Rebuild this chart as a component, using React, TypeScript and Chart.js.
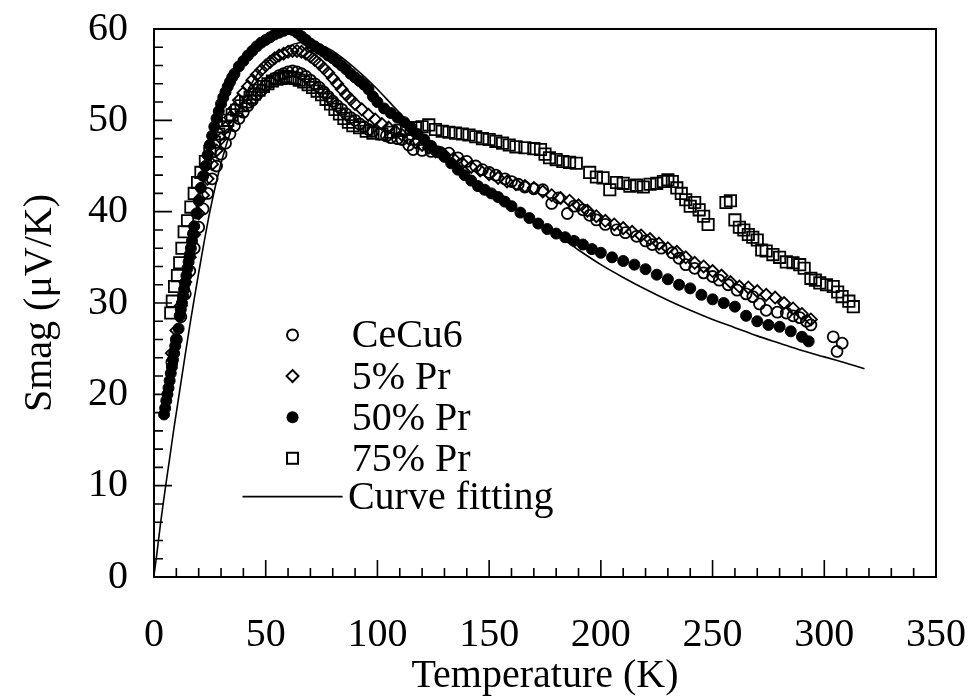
import React, { useEffect, useRef } from "react";
import { Chart, registerables } from "chart.js";

Chart.register(...registerables);

const xTicks = [0, 50, 100, 150, 200, 250, 300, 350];
const yTicks = [0, 10, 20, 30, 40, 50, 60];
const seriesNames = ["CeCu6", "5% Pr", "50% Pr", "75% Pr", "Curve fitting"];

const cecu6: [number, number][] = [
  [8,23.5],[10,26],[12,28.5],[14,31],[16,33.5],[18,36],[20,38.3],[22,40.3],[24,42],[26,43.6],[28,45],[30,46.3],[32,47.5],[34,48.5],[36,49.4],[38,50.2],[40,50.9],[42,51.6],[44,52.2],[46,52.8],[48,53.3],[50,53.8],[52,54.2],[54,54.6],[56,54.9],[58,55.1],[60,55.3],[62,55.4],[64,55.3],[66,55.1],[68,54.8],[70,54.4],[72,54],[74,53.6],[76,53.1],[78,52.6],[80,52.1],[82,51.6],[84,51.2],[86,50.7],[88,50.3],[90,50],[92,49.6],[94,49.3],[96,49],[98,48.8],[101,48.5],[104,48.3],[106,48.1],[109,48],[111,47.9],[114,47.3],[116,46.8],[120,46.7],[124,46.6],[128,46.5],[132,46.4],[136,45.9],[140,45.5],[144,45],[147,44.6],[150,44.3],[153,44],[157,43.6],[160,43.3],[163,43],[166,42.7],[170,42.5],[174,42.4],[178,40.9],[181,41.5],[185,39.8],[188,40.6],[192,40.2],[195,39.6],[198,39.1],[202,38.6],[207,38],[211,37.7],[216,37.3],[220,36.8],[223,36.4],[227,36],[232,35.5],[235,34.9],[238,34.2],[242,33.8],[246,33.3],[250,32.9],[253,32.5],[257,32],[261,31.4],[265,31],[268,30.7],[271,29.9],[274,29.2],[279,29],[283,28.9],[286,28.6],[289,28.4],[292,28],[294,27.6],[304,26.3],[305.7,24.7],[308,25.6]
];

const pr5: [number, number][] = [
  [8,24.5],[10,27],[12,29.7],[14,32.3],[16,35],[18,37.5],[20,39.8],[22,41.8],[24,43.6],[26,45.2],[28,46.7],[30,48],[32,49.2],[34,50.3],[36,51.3],[38,52.2],[40,53],[42,53.7],[44,54.4],[46,55],[48,55.5],[50,56],[52,56.4],[54,56.8],[56,57.1],[58,57.3],[60,57.5],[62,57.6],[64,57.6],[66,57.5],[68,57.3],[70,57],[72,56.6],[74,56.2],[76,55.7],[78,55.2],[80,54.6],[82,54],[84,53.4],[86,52.8],[88,52.3],[90,51.8],[93,51.2],[96,50.6],[99,50.1],[102,49.6],[105,49.2],[108,48.8],[111,48.4],[114,48],[117,47.6],[120,47.3],[123,47],[126,46.6],[130,46.2],[134,45.8],[138,45.3],[142,44.9],[146,44.5],[150,44.1],[154,43.7],[158,43.3],[162,43],[166,42.8],[170,42.6],[174,42.2],[178,41.8],[182,41.5],[186,41.2],[190,40.7],[194,40.1],[198,39.5],[202,39],[206,38.6],[210,38.2],[214,37.8],[218,37.4],[222,37],[226,36.5],[230,36],[234,35.6],[238,35],[242,34.4],[246,34],[250,33.5],[254,33],[258,32.3],[262,31.8],[266,31.7],[270,31.3],[274,30.9],[278,30.6],[282,30],[286,29.4],[290,28.8],[294,28.2]
];

const pr50: [number, number][] = [
  [4.5,17.8],[5,18.5],[5.5,19.3],[6,20],[6.5,20.7],[7,21.5],[7.5,22.3],[8,23],[8.5,23.8],[9,24.5],[9.5,25.3],[10,26],[11,27.2],[11.5,28.6],[12,29.3],[12.5,30],[13,30.8],[13.5,31.5],[14,32.2],[14.5,33],[15,33.8],[15.5,34.5],[16,35.3],[16.5,36],[17,36.8],[17.5,37.6],[18,38.4],[19,39.8],[20,41.2],[21,42.6],[22,43.9],[23,45],[24,46.2],[25,47.3],[26,48.3],[27,49.3],[28,50.2],[29,51],[30,51.8],[31,52.5],[32,53.1],[33,53.7],[34,54.2],[35,54.7],[36,55.1],[38,55.9],[40,56.5],[42,57.1],[44,57.6],[46,58.1],[48,58.5],[50,58.8],[52,59.1],[54,59.4],[56,59.6],[58,59.8],[60,60],[62,59.9],[64,59.6],[66,59.2],[68,58.8],[70,58.4],[72,58.1],[74,57.8],[76,57.5],[78,57.1],[80,56.8],[82,56.4],[84,56],[86,55.6],[88,55.1],[90,54.7],[92,54.3],[94,53.9],[96,53.4],[98,52.6],[100,52],[103,51.3],[106,50.8],[109,50.3],[112,49.8],[115,49.2],[118,48.5],[121,47.9],[124,47.2],[127,46.6],[130,46],[133,45.3],[136,44.6],[139,44],[142,43.4],[145,42.8],[148,42.4],[151,42],[154,41.6],[157,41.1],[160,40.6],[164,39.9],[168,39.3],[172,38.7],[176,38.1],[180,37.6],[184,37.2],[188,36.8],[192,36.4],[196,35.9],[200,35.5],[205,35],[210,34.6],[215,34.2],[220,33.7],[225,33.1],[230,32.6],[235,32],[240,31.6],[245,30.9],[250,30.4],[255,30],[260,29.6],[265,28.6],[270,28],[275,27.6],[280,27.4],[285,26.9],[290,26.3],[293,25.8]
];

const pr75: [number, number][] = [
  [7.5,28.9],[8.2,30.2],[9.2,31.8],[10.5,33],[11.5,34.4],[12.5,36],[13.5,37.8],[15,39],[16.5,40.5],[18,42],[19.5,43.2],[21,44.3],[23,45.5],[25,46.6],[27,47.6],[29,48.5],[31,49.3],[33,50],[35,50.6],[37,51.1],[39,51.6],[41,52],[43,52.5],[45,52.9],[47,53.3],[49,53.7],[51,54],[53,54.3],[55,54.5],[57,54.6],[59,54.8],[61,54.7],[63,54.6],[65,54.4],[67,54.2],[69,53.9],[71,53.6],[73,53.2],[75,52.8],[77,52.3],[79,51.8],[81,51.2],[83,50.7],[85,50.2],[87,49.8],[89,49.4],[92,49.2],[95,48.8],[98,48.6],[102,48.5],[106,48.7],[110,48.9],[113,49],[117,49.2],[120,49.3],[123,49.5],[126,49],[129,48.8],[132,48.7],[135,48.6],[138,48.5],[141,48.4],[144,48.2],[147,48],[150,47.9],[153,47.7],[156,47.5],[159,47.3],[162,47.1],[166,47],[170,46.9],[173,46.8],[175,46.3],[177,45.9],[180,45.7],[183,45.5],[186,45.4],[189,45.3],[195,44.3],[198,43.8],[201,43.7],[204,42.4],[207,43.2],[210,43.1],[213,42.8],[216,42.9],[219,42.7],[222,43],[225,43.1],[228,43.3],[230,43.5],[232,43.3],[234,42.6],[236,42],[238,41.3],[240,40.6],[242,41],[244,40.2],[246,39.5],[248,38.6],[256,41],[258,41.2],[260,39.1],[262,38.3],[264,38],[266,37.5],[268,37.2],[270,36.9],[272,35.8],[274,35.7],[277,35.3],[280,35],[283,34.5],[286,34.4],[289,34.2],[291,33.8],[294,32.7],[296,32.5],[298,32.2],[301,32],[304,31.8],[306,31.2],[308,30.7],[311,30.2],[313,29.6]
];

const curveFit: [number, number][] = [
  [0,0.2],[1,2],[2,4],[3,6],[5,9.6],[7,13],[9,16.4],[12,21.2],[16,27.5],[20,33.3],[25,40],[30,45.3],[35,49.3],[40,52.3],[45,54.6],[50,56.2],[55,57.3],[60,58.1],[65,58.5],[70,58.5],[75,58.2],[80,57.6],[85,56.7],[90,55.7],[95,54.6],[100,53.4],[105,52.1],[110,50.8],[115,49.5],[120,48.3],[125,47.1],[130,46],[140,44],[150,42.2],[160,40.5],[170,39],[180,37.5],[190,35.8],[200,34.2],[210,32.8],[220,31.5],[230,30.3],[240,29.2],[250,28.2],[260,27.3],[270,26.4],[280,25.6],[290,24.8],[300,24.1],[310,23.4],[318,22.8]
];

const FONT = '"Liberation Serif", "Times New Roman", serif';

const toPts = (arr: [number, number][]) => arr.map(([x, y]) => ({ x, y }));

const decorPlugin = {
  id: "decor",
  afterDraw(chart: any) {
    const { ctx, chartArea } = chart;
    const xs = chart.scales.x;
    const ys = chart.scales.y;
    ctx.save();
    ctx.strokeStyle = "#000";
    ctx.lineWidth = 2;
    ctx.strokeRect(chartArea.left, chartArea.top, chartArea.right - chartArea.left, chartArea.bottom - chartArea.top);
    ctx.lineWidth = 1.6;
    ctx.beginPath();
    for (let v = 0; v <= 350; v += 10) {
      const px = xs.getPixelForValue(v);
      const len = v % 50 === 0 ? 17 : 9;
      ctx.moveTo(px, chartArea.bottom);
      ctx.lineTo(px, chartArea.bottom - len);
    }
    for (let v = 0; v <= 60; v += 2) {
      const py = ys.getPixelForValue(v);
      const len = v % 10 === 0 ? 18 : 9;
      ctx.moveTo(chartArea.left, py);
      ctx.lineTo(chartArea.left + len, py);
    }
    ctx.stroke();

    // legend
    const mx = xs.getPixelForValue(62);
    const tx = xs.getPixelForValue(88.5);
    const rowsY = [26.5, 22.0, 17.5, 13.0, 8.8].map((v) => ys.getPixelForValue(v));
    ctx.font = `40px ${FONT}`;
    ctx.fillStyle = "#000";
    ctx.textBaseline = "middle";
    ctx.textAlign = "left";
    ctx.lineWidth = 2;
    ctx.beginPath();
    ctx.arc(mx, rowsY[0], 5.5, 0, Math.PI * 2);
    ctx.stroke();
    ctx.beginPath();
    ctx.moveTo(mx, rowsY[1] - 6);
    ctx.lineTo(mx + 6, rowsY[1]);
    ctx.lineTo(mx, rowsY[1] + 6);
    ctx.lineTo(mx - 6, rowsY[1]);
    ctx.closePath();
    ctx.stroke();
    ctx.beginPath();
    ctx.arc(mx, rowsY[2], 6, 0, Math.PI * 2);
    ctx.fill();
    ctx.strokeRect(mx - 5.5, rowsY[3] - 5.5, 11, 11);
    ctx.lineWidth = 1.6;
    ctx.beginPath();
    ctx.moveTo(xs.getPixelForValue(39.6), rowsY[4]);
    ctx.lineTo(xs.getPixelForValue(84.4), rowsY[4]);
    ctx.stroke();
    seriesNames.forEach((name, i) => {
      const x = i === 4 ? xs.getPixelForValue(86.8) : tx;
      ctx.fillText(name, x, rowsY[i] + 2);
    });
    ctx.restore();
  },
};

export default function App() {
  const ref = useRef<HTMLCanvasElement | null>(null);
  useEffect(() => {
    if (!ref.current) return;
    const chart = new Chart(ref.current, {
      type: "scatter",
      data: {
        datasets: [
          {
            label: seriesNames[0],
            data: toPts(cecu6),
            pointStyle: "circle",
            pointRadius: 5.5,
            borderColor: "#000",
            backgroundColor: "rgba(0,0,0,0)",
            pointBorderWidth: 1.8,
            order: 3,
          },
          {
            label: seriesNames[1],
            data: toPts(pr5),
            pointStyle: "rectRot",
            pointRadius: 6,
            borderColor: "#000",
            backgroundColor: "rgba(0,0,0,0)",
            pointBorderWidth: 1.8,
            order: 2,
          },
          {
            label: seriesNames[2],
            data: toPts(pr50),
            pointStyle: "circle",
            pointRadius: 5.5,
            borderColor: "#000",
            backgroundColor: "#000",
            pointBorderWidth: 1,
            order: 1,
          },
          {
            label: seriesNames[3],
            data: toPts(pr75),
            pointStyle: "rect",
            pointRadius: 8,
            borderColor: "#000",
            backgroundColor: "rgba(0,0,0,0)",
            pointBorderWidth: 1.8,
            order: 4,
          },
          {
            label: seriesNames[4],
            data: toPts(curveFit),
            showLine: true,
            pointRadius: 0,
            borderColor: "#000",
            borderWidth: 1.6,
            tension: 0.3,
            fill: false,
            order: 5,
          } as any,
        ],
      },
      options: {
        responsive: false,
        animation: false,
        events: [],
        layout: { padding: { top: 29, right: 33, left: 0, bottom: 0 } },
        plugins: { legend: { display: false }, tooltip: { enabled: false } },
        scales: {
          x: {
            type: "linear",
            min: 0,
            max: 350,
            afterBuildTicks: (s: any) => {
              s.ticks = xTicks.map((v) => ({ value: v }));
            },
            afterFit: (s: any) => {
              s.height = 119;
              s.paddingLeft = 0;
              s.paddingRight = 0;
              s.paddingTop = 0;
              s.paddingBottom = 0;
            },
            grid: { display: false, drawTicks: false },
            border: { display: false },
            ticks: { color: "#000", font: { family: FONT, size: 40 }, padding: 34, maxRotation: 0 },
            title: {
              display: true,
              text: "Temperature (K)",
              color: "#000",
              font: { family: FONT, size: 40 },
              padding: { top: 0, bottom: -4 },
            },
          },
          y: {
            type: "linear",
            min: 0,
            max: 60,
            afterBuildTicks: (s: any) => {
              s.ticks = yTicks.map((v) => ({ value: v }));
            },
            afterFit: (s: any) => {
              s.width = 154;
              s.paddingLeft = 0;
              s.paddingRight = 0;
              s.paddingTop = 0;
              s.paddingBottom = 0;
            },
            grid: { display: false, drawTicks: false },
            border: { display: false },
            ticks: { color: "#000", font: { family: FONT, size: 40 }, padding: 26 },
            title: {
              display: true,
              text: "Smag (μV/K)",
              color: "#000",
              font: { family: FONT, size: 40 },
              padding: { top: 16, bottom: 0 },
            },
          },
        },
      },
      plugins: [decorPlugin],
    });
    return () => chart.destroy();
  }, []);
  return (
    <canvas
      ref={ref}
      width={969}
      height={696}
      style={{ position: "fixed", left: 0, top: 0, width: 969, height: 696, display: "block", background: "#fff" }}
    />
  );
}
